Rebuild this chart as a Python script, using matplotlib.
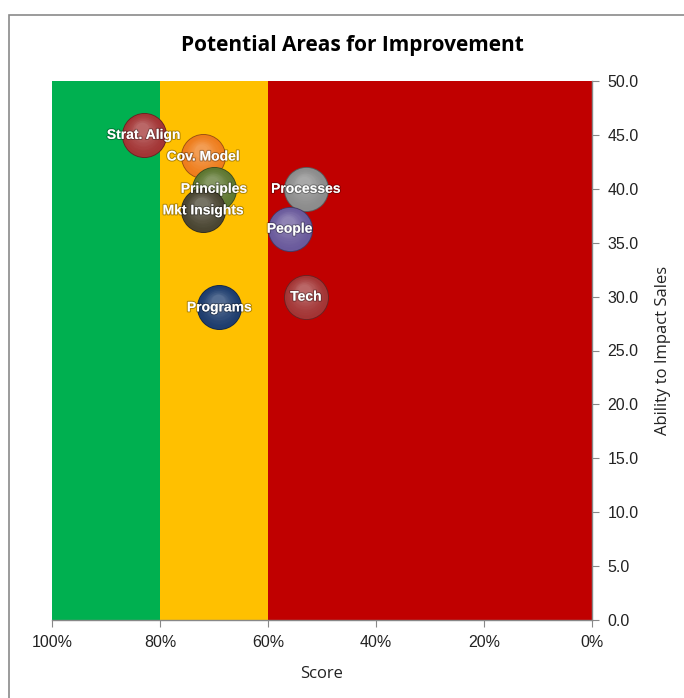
import matplotlib.pyplot as plt
import matplotlib.patheffects as pe
from matplotlib.patches import Rectangle
from matplotlib.colors import to_rgb
import numpy as np

# Data
labels = ["Strat. Align", "Cov. Model", "Principles", "Mkt Insights",
          "Processes", "People", "Tech", "Programs"]
score = [83, 72, 70, 72, 53, 56, 53, 69]          # percent
impact = [45.0, 43.0, 40.0, 38.0, 40.0, 36.3, 30.0, 29.0]
colors = ["#a33535", "#ee7d1c", "#5e7731", "#4a4532",
          "#8c8c8c", "#6a5a9c", "#a33535", "#1e3d6e"]

# background bands (score ranges)
band_edges = [100, 80, 60, 0]
band_colors = ["#00b050", "#ffc000", "#c00000"]

x_ticks = [100, 80, 60, 40, 20, 0]
y_ticks = np.arange(0, 50.1, 5)

fig = plt.figure(figsize=(6.84, 6.98), dpi=100)
ax = fig.add_axes([52 / 684, 1 - 620 / 698, 540 / 684, 539 / 698])

# outer chart border
fig.add_artist(Rectangle((9 / 684, -0.05), 1.0, 1 - 15 / 698 + 0.05,
                         transform=fig.transFigure, fill=False,
                         edgecolor="#8a8a8a", linewidth=1.2))

for i in range(len(band_colors)):
    ax.axvspan(band_edges[i + 1], band_edges[i], color=band_colors[i], zorder=0, lw=0)


def blend(c, other, t):
    c = np.array(to_rgb(c))
    o = np.array(to_rgb(other))
    return tuple(c * (1 - t) + o * t)


# fake 3D bubble shading: dark rim, lighter layers shifted upward
size = 1050
for x, y, c in zip(score, impact, colors):
    ax.scatter(x, y, s=size, color=blend(c, "black", 0.35), zorder=3, lw=0)
    n = 12
    for k in range(n):
        t = k / n
        s = size * (1 - 0.75 * t) ** 2 * 0.92
        ax.scatter(x + 0.35 * t, y + 0.6 * t, s=s,
                   color=blend(c, "white", 0.28 * t ** 1.5), zorder=3, lw=0)

for x, y, lab in zip(score, impact, labels):
    ax.text(x, y, lab, ha="center", va="center", color="white",
            fontsize=10, fontweight="bold", family="Liberation Sans", zorder=5,
            path_effects=[pe.withStroke(linewidth=1.5, foreground=(0, 0, 0, 0.3))])

ax.set_xlim(100, 0)
ax.set_ylim(0, 50)
ax.set_xticks(x_ticks)
ax.set_xticklabels([f"{v}%" for v in x_ticks], family="Liberation Sans")
ax.set_yticks(y_ticks)
ax.set_yticklabels([f"{v:.1f}" for v in y_ticks], family="Liberation Sans")

ax.yaxis.tick_right()
ax.yaxis.set_label_position("right")
for side in ["top", "left"]:
    ax.spines[side].set_visible(False)
for side in ["right", "bottom"]:
    ax.spines[side].set_color("#888888")
    ax.spines[side].set_linewidth(1.0)
ax.tick_params(axis="both", direction="out", length=5, color="#888888",
               labelsize=11.5, labelcolor="#222222")
ax.tick_params(axis="x", pad=6)
ax.tick_params(axis="y", pad=6)

ax.set_xlabel("Score", fontsize=12, family="Open Sans", color="#222222", labelpad=11)
ax.set_ylabel("Ability to Impact Sales", fontsize=12, family="Open Sans",
              color="#222222", labelpad=12)
fig.text(352 / 684, 1 - 45 / 698, "Potential Areas for Improvement", ha="center",
         va="center", fontsize=15, fontweight="bold", family="Open Sans")

fig.savefig("out.png", dpi=100)
